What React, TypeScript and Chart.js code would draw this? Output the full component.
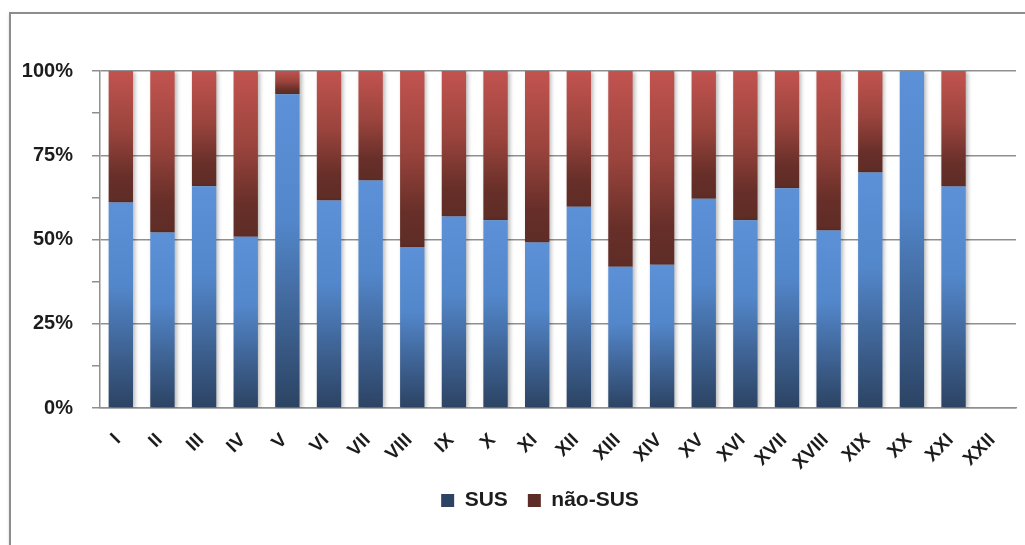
import React, { useEffect, useRef } from "react";
import { Chart, registerables } from "chart.js";

Chart.register(...registerables);

// Chapter categories (Roman numerals)
const categories = [
  "I", "II", "III", "IV", "V", "VI", "VII", "VIII", "IX", "X", "XI",
  "XII", "XIII", "XIV", "XV", "XVI", "XVII", "XVIII", "XIX", "XX", "XXI", "XXII",
];

// Share of records per category, in percent
const susPct = [
  61.0, 52.1, 65.8, 50.8, 93.1, 61.6, 67.5, 47.8, 56.8, 55.7, 49.1,
  59.7, 41.9, 42.5, 62.1, 55.7, 65.2, 52.7, 69.9, 100, 65.7, null,
];
const naoSusPct = [
  39.0, 47.9, 34.2, 49.2, 6.9, 38.4, 32.5, 52.2, 43.2, 44.3, 50.9,
  40.3, 58.1, 57.5, 37.9, 44.3, 34.8, 47.3, 30.1, 0, 34.3, null,
];

const yTickValues = [0, 25, 50, 75, 100];

const seriesNames = ["SUS", "não-SUS"];

const FONT = "'Liberation Sans', Arial, sans-serif";
const TEXT = "#1c1c1c";
const GRID = "#8f8f8f";

type Stop = [number, string];
const blueStops: Stop[] = [
  [0, "#5c91d8"],
  [0.4, "#5387cb"],
  [0.75, "#3c5f8e"],
  [1, "#2c4363"],
];
const redStops: Stop[] = [
  [0, "#c2534f"],
  [0.45, "#9a443d"],
  [0.8, "#682f29"],
  [1, "#5e2c26"],
];

function segmentGradient(ctx: any, stops: Stop[], fallback: string, lowOf: (i: number) => number, highOf: (i: number) => number) {
  const chart = ctx.chart;
  const y = chart.scales && chart.scales.y;
  if (ctx.type !== "data" || !y) return fallback;
  const i = ctx.dataIndex;
  const lo = lowOf(i);
  const hi = highOf(i);
  if (lo == null || hi == null || isNaN(lo) || isNaN(hi)) return fallback;
  const top = y.getPixelForValue(hi);
  const bottom = y.getPixelForValue(lo);
  if (!isFinite(top) || !isFinite(bottom) || bottom - top < 0.5) return fallback;
  const g = chart.ctx.createLinearGradient(0, top, 0, bottom);
  stops.forEach(([o, c]) => g.addColorStop(o, c));
  return g;
}

// Soft drop shadow behind the bars
const barShadow = {
  id: "barShadow",
  beforeDatasetsDraw(chart: any) {
    const c = chart.ctx;
    c.save();
    c.shadowColor = "rgba(0,0,0,0.28)";
    c.shadowBlur = 4;
    c.shadowOffsetX = 2;
    c.shadowOffsetY = 1;
  },
  afterDatasetsDraw(chart: any) {
    chart.ctx.restore();
  },
};

// Centre the legend within the framed area rather than the whole canvas
const legendShift = {
  id: "legendShift",
  afterLayout(chart: any) {
    if (chart.legend) chart.legend.left += 64;
  },
};

export default function App() {
  const canvasRef = useRef<HTMLCanvasElement | null>(null);

  useEffect(() => {
    document.body.style.overflow = "hidden";
    const canvas = canvasRef.current;
    if (!canvas) return;
    const chart = new Chart(canvas, {
      type: "bar",
      data: {
        labels: categories,
        datasets: [
          {
            label: seriesNames[0],
            data: susPct,
            backgroundColor: (ctx: any) =>
              segmentGradient(ctx, blueStops, "#4a78b6", () => 0, (i) => susPct[i] as number),
            borderWidth: 0,
            barPercentage: 0.585,
            categoryPercentage: 1,
          },
          {
            label: seriesNames[1],
            data: naoSusPct,
            backgroundColor: (ctx: any) =>
              segmentGradient(
                ctx,
                redStops,
                "#9e4640",
                (i) => susPct[i] as number,
                (i) => (susPct[i] as number) + (naoSusPct[i] as number)
              ),
            borderWidth: 0,
            barPercentage: 0.585,
            categoryPercentage: 1,
          },
        ],
      },
      plugins: [barShadow, legendShift],
      options: {
        responsive: false,
        animation: false,
        layout: { padding: { top: 71, right: 9, bottom: 24, left: 0 } },
        plugins: {
          tooltip: { enabled: false },
          legend: {
            position: "bottom",
            labels: {
              boxWidth: 13,
              boxHeight: 13,
              padding: 20,
              color: TEXT,
              font: { family: FONT, size: 21, weight: "bold" },
            },
          },
        },
        scales: {
          x: {
            stacked: true,
            grid: { display: false, drawTicks: false },
            border: { display: true, color: GRID, width: 1.5 },
            ticks: {
              minRotation: 45,
              maxRotation: 45,
              autoSkip: false,
              padding: 21,
              labelOffset: -3,
              color: TEXT,
              font: { family: FONT, size: 19, weight: "bold" },
            },
            afterFit(scale: any) {
              scale.height = 62;
              scale.paddingLeft = 0;
              scale.paddingRight = 0;
            },
          },
          y: {
            stacked: true,
            min: 0,
            max: 100,
            grid: {
              color: (ctx: any) =>
                ctx.tick && yTickValues.includes(ctx.tick.value) ? GRID : "rgba(0,0,0,0)",
              tickColor: GRID,
              tickLength: 8,
              lineWidth: 1.5,
            },
            border: { display: true, color: GRID, width: 1.5 },
            ticks: {
              stepSize: 12.5,
              autoSkip: false,
              padding: 19,
              color: TEXT,
              font: { family: FONT, size: 20, weight: "bold" },
              callback: (v: any) => (yTickValues.includes(Number(v)) ? `${v}%` : ""),
            },
            afterFit(scale: any) {
              scale.width = 100;
            },
          },
        },
      },
    });
    return () => chart.destroy();
  }, []);

  return (
    <div>
      <div
        style={{
          position: "fixed",
          left: 9,
          top: 12,
          width: 1100,
          height: 600,
          border: "2px solid #8d8d8d",
          boxShadow: "1px 2px 3px rgba(0,0,0,0.35)",
          background: "#fff",
        }}
      />
      <canvas
        ref={canvasRef}
        width={1025}
        height={545}
        style={{ position: "fixed", left: 0, top: 0, display: "block" }}
      />
    </div>
  );
}
